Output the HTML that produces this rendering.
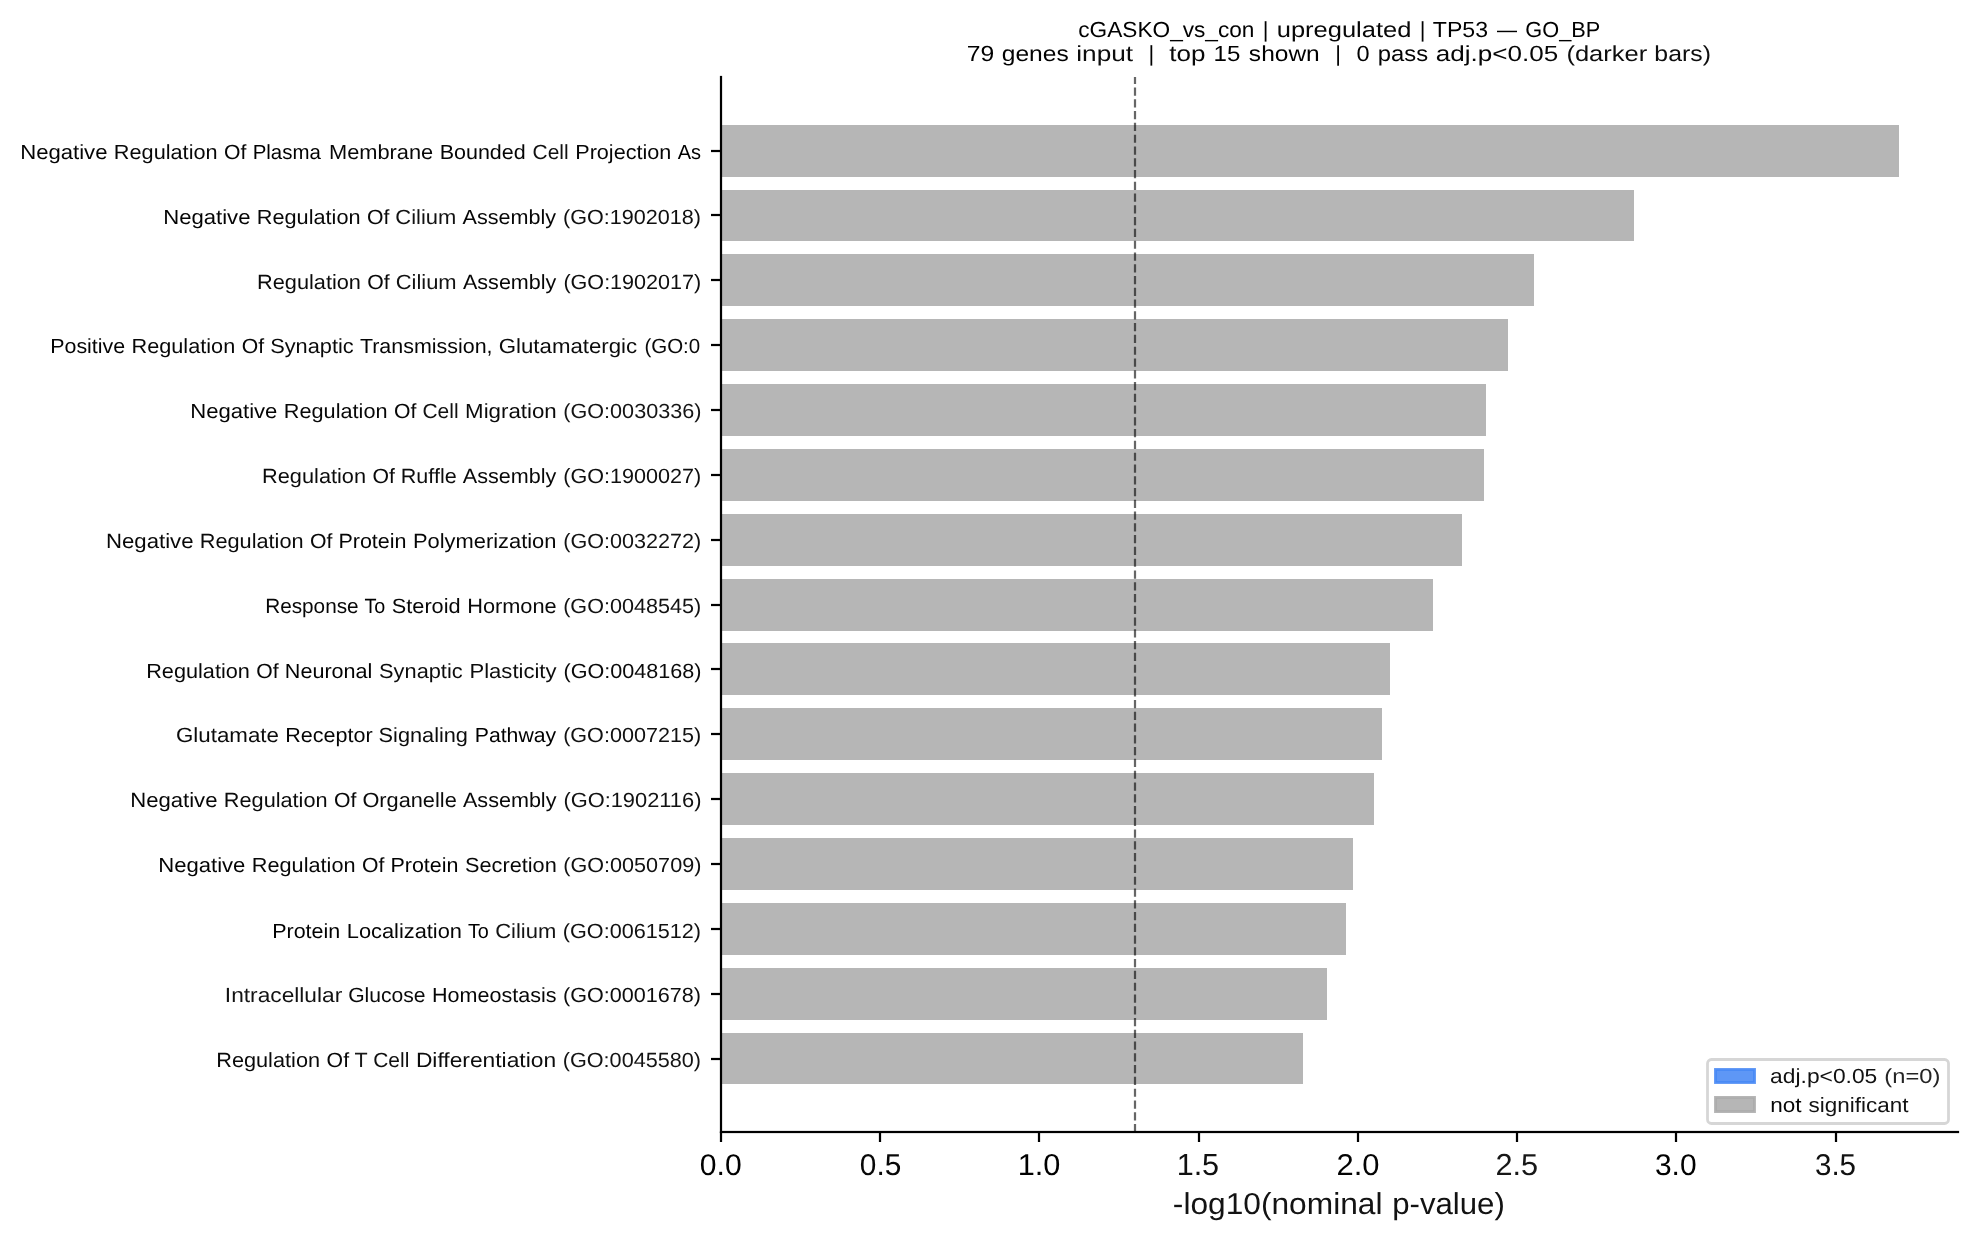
<!DOCTYPE html>
<html><head><meta charset="utf-8"><title>GO_BP enrichment</title>
<style>
html,body{margin:0;padding:0;background:#fff;}
body{width:1977px;height:1239px;overflow:hidden;position:relative;}
svg{position:absolute;left:0;top:0;display:block;will-change:transform;}
text{font-family:"Liberation Sans",sans-serif;white-space:pre;text-rendering:geometricPrecision;}
</style></head><body>
<svg width="1977" height="1239" viewBox="0 0 1977 1239">
<g fill="#b6b6b6" shape-rendering="crispEdges">
<rect x="721" y="125" width="1178" height="52"/>
<rect x="721" y="190" width="913" height="51"/>
<rect x="721" y="254" width="813" height="52"/>
<rect x="721" y="319" width="787" height="52"/>
<rect x="721" y="384" width="765" height="52"/>
<rect x="721" y="449" width="763" height="52"/>
<rect x="721" y="514" width="741" height="52"/>
<rect x="721" y="579" width="712" height="52"/>
<rect x="721" y="643" width="669" height="52"/>
<rect x="721" y="708" width="661" height="52"/>
<rect x="721" y="773" width="653" height="52"/>
<rect x="721" y="838" width="632" height="52"/>
<rect x="721" y="903" width="625" height="52"/>
<rect x="721" y="968" width="606" height="52"/>
<rect x="721" y="1033" width="582" height="51"/>
</g>
<line x1="1135" y1="1132.2" x2="1135" y2="77.0" stroke="#000" stroke-opacity="0.6" stroke-width="2.222" stroke-dasharray="8.222 3.556"/>
<g fill="#000">
<rect x="719.89" y="75.89" width="2.222" height="1057.22"/>
<rect x="719.89" y="1130.89" width="1239.22" height="2.222"/>
<rect x="719.89" y="1132" width="2.222" height="10"/>
<rect x="878.89" y="1132" width="2.222" height="10"/>
<rect x="1037.89" y="1132" width="2.222" height="10"/>
<rect x="1197.89" y="1132" width="2.222" height="10"/>
<rect x="1356.89" y="1132" width="2.222" height="10"/>
<rect x="1515.89" y="1132" width="2.222" height="10"/>
<rect x="1674.89" y="1132" width="2.222" height="10"/>
<rect x="1834.89" y="1132" width="2.222" height="10"/>
<rect x="711" y="149.89" width="9" height="2.222"/>
<rect x="711" y="213.89" width="9" height="2.222"/>
<rect x="711" y="278.89" width="9" height="2.222"/>
<rect x="711" y="343.89" width="9" height="2.222"/>
<rect x="711" y="408.89" width="9" height="2.222"/>
<rect x="711" y="473.89" width="9" height="2.222"/>
<rect x="711" y="538.89" width="9" height="2.222"/>
<rect x="711" y="603.89" width="9" height="2.222"/>
<rect x="711" y="667.89" width="9" height="2.222"/>
<rect x="711" y="732.89" width="9" height="2.222"/>
<rect x="711" y="797.89" width="9" height="2.222"/>
<rect x="711" y="862.89" width="9" height="2.222"/>
<rect x="711" y="927.89" width="9" height="2.222"/>
<rect x="711" y="992.89" width="9" height="2.222"/>
<rect x="711" y="1057.89" width="9" height="2.222"/>
</g>
<rect x="1707.50" y="1059.5" width="241.00" height="64" rx="3.9" ry="3.9" fill="#fff" stroke="#d6d6d6" stroke-width="2.78"/>
<rect x="1715.45" y="1069.45" width="39.1" height="13.1" fill="#4285f4" fill-opacity="0.85" stroke="#4285f4" stroke-opacity="0.85" stroke-width="2.78"/>
<rect x="1715.45" y="1097.4" width="39.1" height="14.2" fill="#a9a9a9" fill-opacity="0.85" stroke="#a9a9a9" stroke-opacity="0.85" stroke-width="2.78"/>
<g><text x="1078.29" y="37.00" font-size="21.84" textLength="176.19" lengthAdjust="spacingAndGlyphs">cGASKO_vs_con</text><text x="1262.75" y="37.00" font-size="21.84" textLength="5.69" lengthAdjust="spacingAndGlyphs">|</text><text x="1276.73" y="37.00" font-size="21.84" textLength="134.63" lengthAdjust="spacingAndGlyphs" style="fill:#070707">upregulated</text><text x="1419.71" y="37.00" font-size="21.84" textLength="5.69" lengthAdjust="spacingAndGlyphs">|</text><text x="1432.76" y="37.00" font-size="21.84" textLength="55.29" lengthAdjust="spacingAndGlyphs">TP53</text><text x="1496.99" y="37.00" font-size="21.84" textLength="20.02" lengthAdjust="spacingAndGlyphs">—</text><text x="1525.35" y="37.00" font-size="21.84" textLength="74.92" lengthAdjust="spacingAndGlyphs">GO_BP</text></g>
<g style="fill:#090909"><text x="966.66" y="61.00" font-size="21.88" textLength="27.46" lengthAdjust="spacingAndGlyphs" style="fill:#000000">79</text><text x="1001.79" y="61.00" font-size="21.88" textLength="66.93" lengthAdjust="spacingAndGlyphs" style="fill:#020202">genes</text><text x="1076.30" y="61.00" font-size="21.88" textLength="56.85" lengthAdjust="spacingAndGlyphs" style="fill:#0d0d0d">input</text><text x="1148.40" y="61.00" font-size="21.88" textLength="5.70" lengthAdjust="spacingAndGlyphs" style="fill:#000000">|</text><text x="1169.39" y="61.00" font-size="21.88" textLength="36.16" lengthAdjust="spacingAndGlyphs" style="fill:#080808">top</text><text x="1213.57" y="61.00" font-size="21.88" textLength="26.81" lengthAdjust="spacingAndGlyphs" style="fill:#000000">15</text><text x="1248.88" y="61.00" font-size="21.88" textLength="70.85" lengthAdjust="spacingAndGlyphs" style="fill:#000000">shown</text><text x="1335.16" y="61.00" font-size="21.88" textLength="5.70" lengthAdjust="spacingAndGlyphs" style="fill:#000000">|</text><text x="1356.54" y="61.00" font-size="21.88" textLength="13.09" lengthAdjust="spacingAndGlyphs" style="fill:#000000">0</text><text x="1377.77" y="61.00" font-size="21.88" textLength="50.33" lengthAdjust="spacingAndGlyphs" style="fill:#040404">pass</text><text x="1435.75" y="61.00" font-size="21.88" textLength="122.46" lengthAdjust="spacingAndGlyphs" style="fill:#060606">adj.p&lt;0.05</text><text x="1566.40" y="61.00" font-size="21.88" textLength="80.89" lengthAdjust="spacingAndGlyphs" style="fill:#0e0e0e">(darker</text><text x="1654.37" y="61.00" font-size="21.88" textLength="56.55" lengthAdjust="spacingAndGlyphs" style="fill:#0e0e0e">bars)</text></g>
<g style="fill:#090909"><text x="20.17" y="159.00" font-size="20.51" textLength="87.34" lengthAdjust="spacingAndGlyphs" style="fill:#040404">Negative</text><text x="113.88" y="159.00" font-size="20.51" textLength="103.70" lengthAdjust="spacingAndGlyphs" style="fill:#070707">Regulation</text><text x="224.10" y="159.00" font-size="20.51" textLength="22.36" lengthAdjust="spacingAndGlyphs" style="fill:#060606">Of</text><text x="252.67" y="159.00" font-size="20.51" textLength="68.16" lengthAdjust="spacingAndGlyphs" style="fill:#000000">Plasma</text><text x="328.96" y="159.00" font-size="20.51" textLength="104.29" lengthAdjust="spacingAndGlyphs" style="fill:#080808">Membrane</text><text x="439.66" y="159.00" font-size="20.51" textLength="86.06" lengthAdjust="spacingAndGlyphs" style="fill:#050505">Bounded</text><text x="532.53" y="159.00" font-size="20.51" textLength="36.08" lengthAdjust="spacingAndGlyphs" style="fill:#111111">Cell</text><text x="575.22" y="159.00" font-size="20.51" textLength="96.06" lengthAdjust="spacingAndGlyphs" style="fill:#060606">Projection</text><text x="677.64" y="159.00" font-size="20.51" textLength="23.34" lengthAdjust="spacingAndGlyphs" style="fill:#000000">As</text></g>
<g style="fill:#0c0c0c"><text x="163.18" y="224.00" font-size="20.54" textLength="87.31" lengthAdjust="spacingAndGlyphs" style="fill:#040404">Negative</text><text x="256.83" y="224.00" font-size="20.54" textLength="103.70" lengthAdjust="spacingAndGlyphs" style="fill:#070707">Regulation</text><text x="366.99" y="224.00" font-size="20.54" textLength="22.38" lengthAdjust="spacingAndGlyphs" style="fill:#080808">Of</text><text x="395.34" y="224.00" font-size="20.54" textLength="60.96" lengthAdjust="spacingAndGlyphs" style="fill:#121212">Cilium</text><text x="462.63" y="224.00" font-size="20.54" textLength="93.49" lengthAdjust="spacingAndGlyphs" style="fill:#060606">Assembly</text><text x="563.04" y="224.00" font-size="20.54" textLength="137.95" lengthAdjust="spacingAndGlyphs" style="fill:#0f0f0f">(GO:1902018)</text></g>
<g style="fill:#0c0c0c"><text x="257.08" y="289.00" font-size="20.57" textLength="103.85" lengthAdjust="spacingAndGlyphs" style="fill:#0b0b0b">Regulation</text><text x="367.36" y="289.00" font-size="20.57" textLength="22.41" lengthAdjust="spacingAndGlyphs" style="fill:#090909">Of</text><text x="395.71" y="289.00" font-size="20.57" textLength="60.91" lengthAdjust="spacingAndGlyphs" style="fill:#121212">Cilium</text><text x="462.99" y="289.00" font-size="20.57" textLength="93.36" lengthAdjust="spacingAndGlyphs" style="fill:#060606">Assembly</text><text x="563.40" y="289.00" font-size="20.57" textLength="137.89" lengthAdjust="spacingAndGlyphs" style="fill:#0f0f0f">(GO:1902017)</text></g>
<g style="fill:#090909"><text x="50.24" y="353.00" font-size="20.54" textLength="74.93" lengthAdjust="spacingAndGlyphs" style="fill:#030303">Positive</text><text x="131.51" y="353.00" font-size="20.54" textLength="103.72" lengthAdjust="spacingAndGlyphs" style="fill:#070707">Regulation</text><text x="241.67" y="353.00" font-size="20.54" textLength="22.38" lengthAdjust="spacingAndGlyphs" style="fill:#070707">Of</text><text x="270.15" y="353.00" font-size="20.54" textLength="83.55" lengthAdjust="spacingAndGlyphs" style="fill:#0a0a0a">Synaptic</text><text x="359.94" y="353.00" font-size="20.54" textLength="132.58" lengthAdjust="spacingAndGlyphs" style="fill:#040404">Transmission,</text><text x="498.75" y="353.00" font-size="20.54" textLength="138.40" lengthAdjust="spacingAndGlyphs" style="fill:#0b0b0b">Glutamatergic</text><text x="644.42" y="353.00" font-size="20.54" textLength="55.78" lengthAdjust="spacingAndGlyphs" style="fill:#0a0a0a">(GO:0</text></g>
<g style="fill:#0c0c0c"><text x="190.18" y="418.00" font-size="20.52" textLength="87.26" lengthAdjust="spacingAndGlyphs" style="fill:#040404">Negative</text><text x="283.86" y="418.00" font-size="20.52" textLength="103.64" lengthAdjust="spacingAndGlyphs" style="fill:#070707">Regulation</text><text x="394.05" y="418.00" font-size="20.52" textLength="22.37" lengthAdjust="spacingAndGlyphs" style="fill:#070707">Of</text><text x="422.45" y="418.00" font-size="20.52" textLength="36.11" lengthAdjust="spacingAndGlyphs" style="fill:#111111">Cell</text><text x="465.08" y="418.00" font-size="20.52" textLength="91.61" lengthAdjust="spacingAndGlyphs" style="fill:#0a0a0a">Migration</text><text x="563.35" y="418.00" font-size="20.52" textLength="138.01" lengthAdjust="spacingAndGlyphs" style="fill:#151515">(GO:0030336)</text></g>
<g style="fill:#0c0c0c"><text x="262.08" y="483.00" font-size="20.58" textLength="103.95" lengthAdjust="spacingAndGlyphs" style="fill:#0b0b0b">Regulation</text><text x="372.44" y="483.00" font-size="20.58" textLength="22.43" lengthAdjust="spacingAndGlyphs" style="fill:#090909">Of</text><text x="400.80" y="483.00" font-size="20.58" textLength="55.90" lengthAdjust="spacingAndGlyphs" style="fill:#0d0d0d">Ruffle</text><text x="462.81" y="483.00" font-size="20.58" textLength="93.44" lengthAdjust="spacingAndGlyphs" style="fill:#080808">Assembly</text><text x="563.30" y="483.00" font-size="20.58" textLength="138.02" lengthAdjust="spacingAndGlyphs" style="fill:#0f0f0f">(GO:1900027)</text></g>
<g style="fill:#090909"><text x="106.04" y="548.00" font-size="20.57" textLength="87.47" lengthAdjust="spacingAndGlyphs" style="fill:#070707">Negative</text><text x="199.74" y="548.00" font-size="20.57" textLength="103.89" lengthAdjust="spacingAndGlyphs" style="fill:#0b0b0b">Regulation</text><text x="310.08" y="548.00" font-size="20.57" textLength="22.42" lengthAdjust="spacingAndGlyphs">Of</text><text x="338.43" y="548.00" font-size="20.57" textLength="68.09" lengthAdjust="spacingAndGlyphs" style="fill:#040404">Protein</text><text x="412.91" y="548.00" font-size="20.57" textLength="143.56" lengthAdjust="spacingAndGlyphs" style="fill:#070707">Polymerization</text><text x="563.25" y="548.00" font-size="20.57" textLength="137.94" lengthAdjust="spacingAndGlyphs" style="fill:#131313">(GO:0032272)</text></g>
<g style="fill:#080808"><text x="265.16" y="613.00" font-size="20.58" textLength="93.46" lengthAdjust="spacingAndGlyphs" style="fill:#060606">Response</text><text x="364.41" y="613.00" font-size="20.58" textLength="20.86" lengthAdjust="spacingAndGlyphs" style="fill:#000000">To</text><text x="391.81" y="613.00" font-size="20.58" textLength="68.78" lengthAdjust="spacingAndGlyphs" style="fill:#060606">Steroid</text><text x="467.17" y="613.00" font-size="20.58" textLength="89.55" lengthAdjust="spacingAndGlyphs" style="fill:#090909">Hormone</text><text x="563.20" y="613.00" font-size="20.58" textLength="137.95" lengthAdjust="spacingAndGlyphs" style="fill:#121212">(GO:0048545)</text></g>
<g style="fill:#0b0b0b"><text x="146.21" y="678.00" font-size="20.52" textLength="103.69" lengthAdjust="spacingAndGlyphs" style="fill:#070707">Regulation</text><text x="256.35" y="678.00" font-size="20.52" textLength="22.35" lengthAdjust="spacingAndGlyphs" style="fill:#070707">Of</text><text x="284.80" y="678.00" font-size="20.52" textLength="87.57" lengthAdjust="spacingAndGlyphs" style="fill:#020202">Neuronal</text><text x="379.10" y="678.00" font-size="20.52" textLength="83.56" lengthAdjust="spacingAndGlyphs" style="fill:#0c0c0c">Synaptic</text><text x="469.53" y="678.00" font-size="20.52" textLength="86.98" lengthAdjust="spacingAndGlyphs" style="fill:#0c0c0c">Plasticity</text><text x="563.48" y="678.00" font-size="20.52" textLength="137.90" lengthAdjust="spacingAndGlyphs" style="fill:#0a0a0a">(GO:0048168)</text></g>
<g style="fill:#0b0b0b"><text x="176.01" y="742.00" font-size="20.53" textLength="102.89" lengthAdjust="spacingAndGlyphs">Glutamate</text><text x="285.22" y="742.00" font-size="20.53" textLength="87.39" lengthAdjust="spacingAndGlyphs" style="fill:#050505">Receptor</text><text x="378.63" y="742.00" font-size="20.53" textLength="89.34" lengthAdjust="spacingAndGlyphs" style="fill:#0c0c0c">Signaling</text><text x="474.72" y="742.00" font-size="20.53" textLength="81.41" lengthAdjust="spacingAndGlyphs" style="fill:#000000">Pathway</text><text x="563.15" y="742.00" font-size="20.53" textLength="137.93" lengthAdjust="spacingAndGlyphs" style="fill:#111111">(GO:0007215)</text></g>
<g style="fill:#0b0b0b"><text x="130.18" y="807.00" font-size="20.56" textLength="87.28" lengthAdjust="spacingAndGlyphs" style="fill:#060606">Negative</text><text x="223.86" y="807.00" font-size="20.56" textLength="103.69" lengthAdjust="spacingAndGlyphs">Regulation</text><text x="334.03" y="807.00" font-size="20.56" textLength="22.41" lengthAdjust="spacingAndGlyphs" style="fill:#080808">Of</text><text x="362.40" y="807.00" font-size="20.56" textLength="94.34" lengthAdjust="spacingAndGlyphs">Organelle</text><text x="462.99" y="807.00" font-size="20.56" textLength="93.46" lengthAdjust="spacingAndGlyphs" style="fill:#080808">Assembly</text><text x="563.41" y="807.00" font-size="20.56" textLength="138.00" lengthAdjust="spacingAndGlyphs" style="fill:#121212">(GO:1902116)</text></g>
<g style="fill:#0a0a0a"><text x="158.18" y="872.00" font-size="20.52" textLength="87.25" lengthAdjust="spacingAndGlyphs" style="fill:#040404">Negative</text><text x="251.86" y="872.00" font-size="20.52" textLength="103.63" lengthAdjust="spacingAndGlyphs" style="fill:#070707">Regulation</text><text x="362.05" y="872.00" font-size="20.52" textLength="22.37" lengthAdjust="spacingAndGlyphs" style="fill:#070707">Of</text><text x="390.53" y="872.00" font-size="20.52" textLength="67.92" lengthAdjust="spacingAndGlyphs" style="fill:#010101">Protein</text><text x="465.06" y="872.00" font-size="20.52" textLength="91.65" lengthAdjust="spacingAndGlyphs" style="fill:#080808">Secretion</text><text x="563.35" y="872.00" font-size="20.52" textLength="137.99" lengthAdjust="spacingAndGlyphs" style="fill:#111111">(GO:0050709)</text></g>
<g style="fill:#0d0d0d"><text x="272.23" y="938.00" font-size="20.52" textLength="68.00" lengthAdjust="spacingAndGlyphs" style="fill:#010101">Protein</text><text x="346.78" y="938.00" font-size="20.52" textLength="115.19" lengthAdjust="spacingAndGlyphs" style="fill:#050505">Localization</text><text x="467.88" y="938.00" font-size="20.52" textLength="20.94" lengthAdjust="spacingAndGlyphs" style="fill:#000000">To</text><text x="495.16" y="938.00" font-size="20.52" textLength="61.13" lengthAdjust="spacingAndGlyphs" style="fill:#131313">Cilium</text><text x="562.86" y="938.00" font-size="20.52" textLength="138.15" lengthAdjust="spacingAndGlyphs" style="fill:#111111">(GO:0061512)</text></g>
<g style="fill:#0c0c0c"><text x="224.85" y="1002.00" font-size="20.53" textLength="117.36" lengthAdjust="spacingAndGlyphs" style="fill:#121212">Intracellular</text><text x="348.16" y="1002.00" font-size="20.53" textLength="77.45" lengthAdjust="spacingAndGlyphs" style="fill:#090909">Glucose</text><text x="432.00" y="1002.00" font-size="20.53" textLength="124.54" lengthAdjust="spacingAndGlyphs" style="fill:#060606">Homeostasis</text><text x="563.13" y="1002.00" font-size="20.53" textLength="137.90" lengthAdjust="spacingAndGlyphs" style="fill:#0d0d0d">(GO:0001678)</text></g>
<g style="fill:#0d0d0d"><text x="216.21" y="1067.00" font-size="20.55" textLength="103.84" lengthAdjust="spacingAndGlyphs" style="fill:#0a0a0a">Regulation</text><text x="326.62" y="1067.00" font-size="20.55" textLength="22.44" lengthAdjust="spacingAndGlyphs" style="fill:#070707">Of</text><text x="354.45" y="1067.00" font-size="20.55" textLength="13.16" lengthAdjust="spacingAndGlyphs" style="fill:#191919">T</text><text x="373.22" y="1067.00" font-size="20.55" textLength="36.09" lengthAdjust="spacingAndGlyphs" style="fill:#101010">Cell</text><text x="415.90" y="1067.00" font-size="20.55" textLength="140.19" lengthAdjust="spacingAndGlyphs" style="fill:#0c0c0c">Differentiation</text><text x="562.72" y="1067.00" font-size="20.55" textLength="138.33" lengthAdjust="spacingAndGlyphs" style="fill:#141414">(GO:0045580)</text></g>
<g><text x="699.80" y="1175.00" font-size="29.89" textLength="41.86" lengthAdjust="spacingAndGlyphs">0.0</text></g>
<g style="fill:#020202"><text x="859.82" y="1175.00" font-size="30.04" textLength="41.45" lengthAdjust="spacingAndGlyphs" style="fill:#070707">0.5</text></g>
<g><text x="1017.71" y="1175.00" font-size="30.23" textLength="42.73" lengthAdjust="spacingAndGlyphs">1.0</text></g>
<g style="fill:#0f0f0f"><text x="1176.63" y="1175.00" font-size="30.64" textLength="42.50" lengthAdjust="spacingAndGlyphs" style="fill:#101010">1.5</text></g>
<g style="fill:#060606"><text x="1336.46" y="1175.00" font-size="30.15" textLength="43.01" lengthAdjust="spacingAndGlyphs" style="fill:#030303">2.0</text></g>
<g style="fill:#151515"><text x="1495.48" y="1175.00" font-size="30.30" textLength="42.71" lengthAdjust="spacingAndGlyphs" style="fill:#171717">2.5</text></g>
<g style="fill:#010101"><text x="1654.94" y="1175.00" font-size="29.92" textLength="41.62" lengthAdjust="spacingAndGlyphs">3.0</text></g>
<g style="fill:#111111"><text x="1814.96" y="1175.00" font-size="30.08" textLength="41.10" lengthAdjust="spacingAndGlyphs">3.5</text></g>
<g style="fill:#131313"><text x="1172.86" y="1214.00" font-size="30.25" textLength="209.61" lengthAdjust="spacingAndGlyphs">-log10(nominal</text><text x="1392.28" y="1214.00" font-size="30.25" textLength="112.57" lengthAdjust="spacingAndGlyphs" style="fill:#121212">p-value)</text></g>
<g style="fill:#181818"><text x="1770.12" y="1083.00" font-size="20.51" textLength="107.19" lengthAdjust="spacingAndGlyphs" style="fill:#111111">adj.p&lt;0.05</text><text x="1884.34" y="1083.00" font-size="20.51" textLength="55.97" lengthAdjust="spacingAndGlyphs" style="fill:#242424">(n=0)</text></g>
<g style="fill:#0c0c0c"><text x="1770.33" y="1112.00" font-size="20.65" textLength="31.29" lengthAdjust="spacingAndGlyphs" style="fill:#060606">not</text><text x="1808.51" y="1112.00" font-size="20.65" textLength="99.89" lengthAdjust="spacingAndGlyphs" style="fill:#121212">significant</text></g>
</svg>
</body></html>
